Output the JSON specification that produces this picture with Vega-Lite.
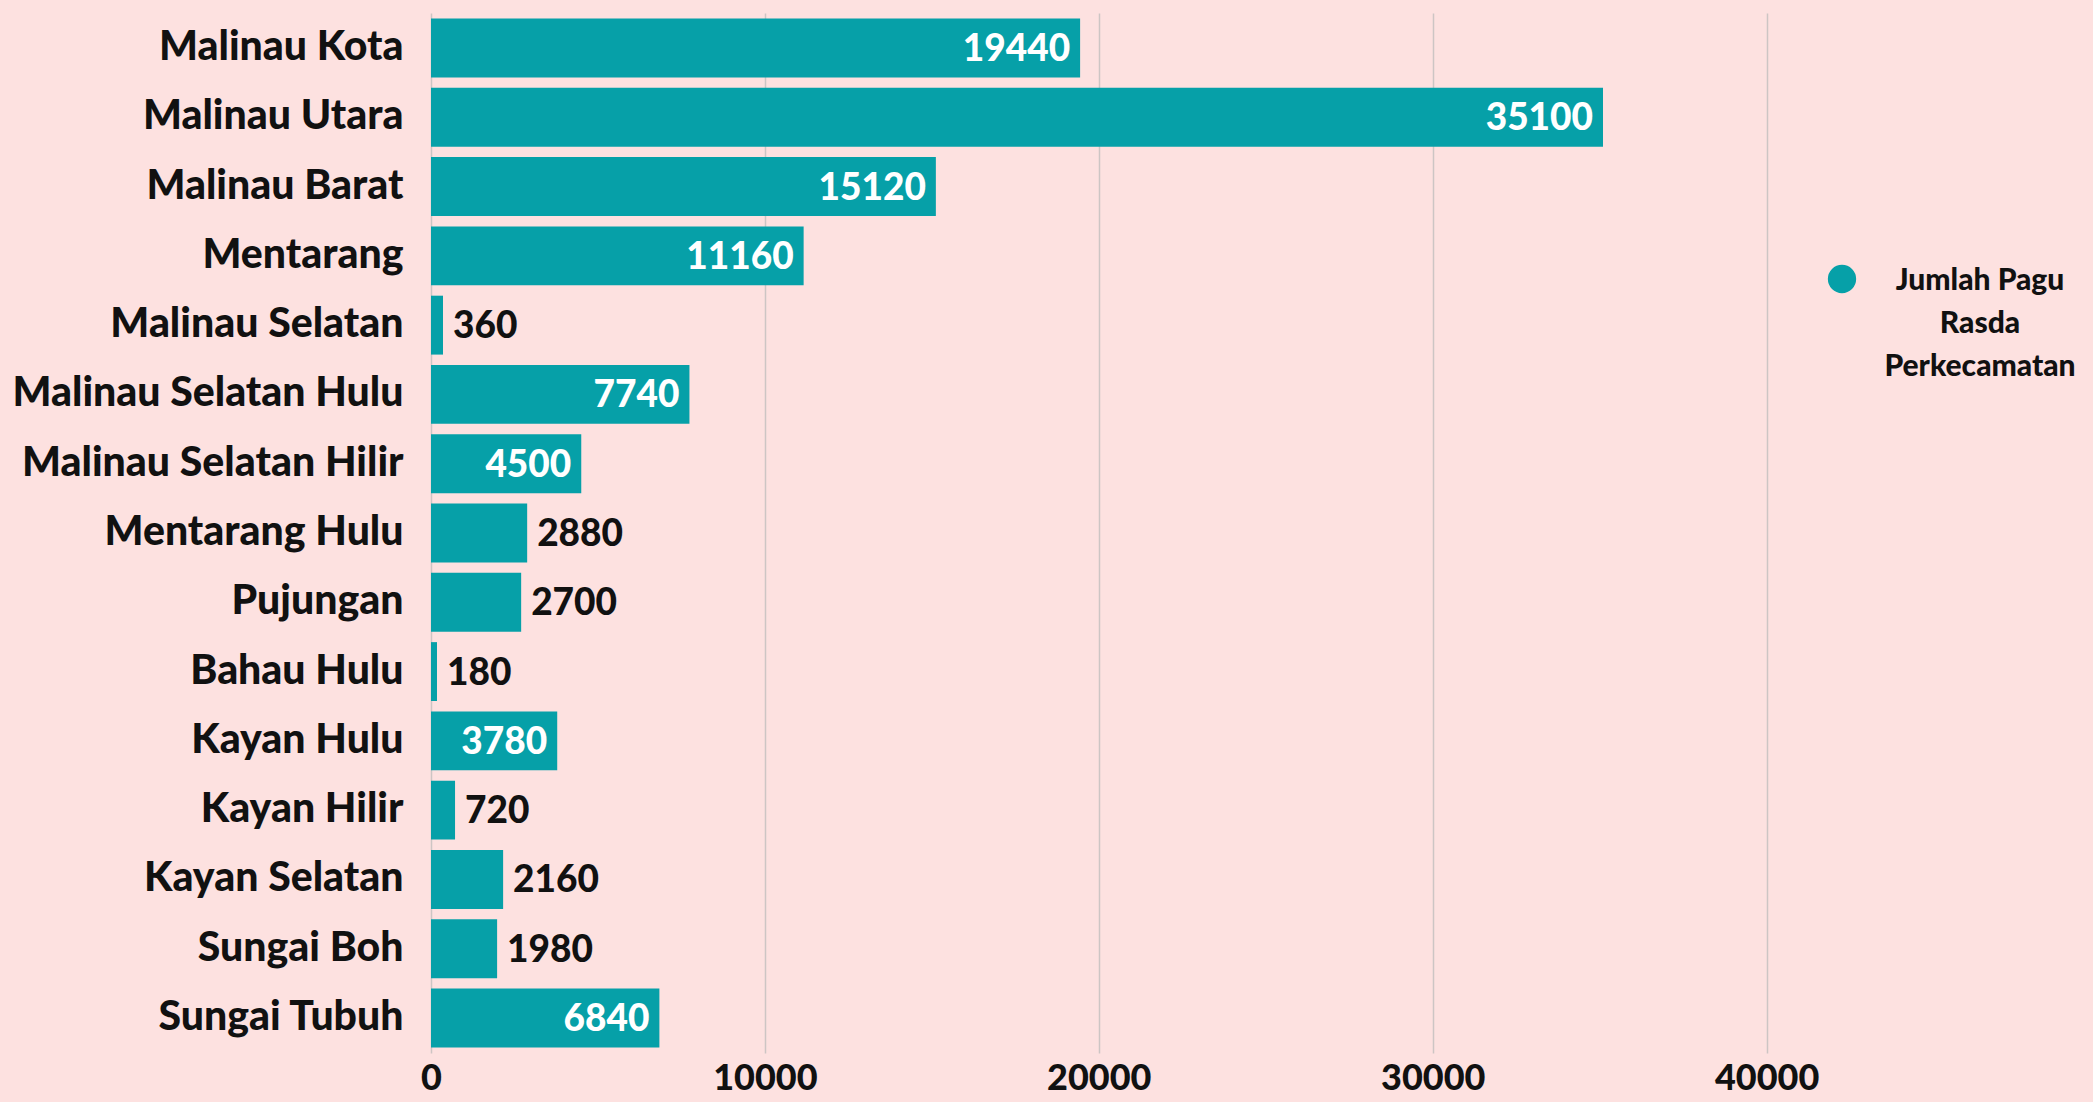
{
  "$schema": "https://vega.github.io/schema/vega-lite/v6.json",
  "background": "#fde1e0",
  "autosize": {"type": "none"},
  "padding": {"left": 431, "top": 13, "right": 293, "bottom": 49},
  "width": 1369,
  "height": 1040,
  "config": {
    "view": {"stroke": null},
    "font": "Lato"
  },
  "data": {
    "values": [
      {"kecamatan": "Malinau Kota", "value": 19440, "series": "Jumlah Pagu Rasda Perkecamatan"},
      {"kecamatan": "Malinau Utara", "value": 35100, "series": "Jumlah Pagu Rasda Perkecamatan"},
      {"kecamatan": "Malinau Barat", "value": 15120, "series": "Jumlah Pagu Rasda Perkecamatan"},
      {"kecamatan": "Mentarang", "value": 11160, "series": "Jumlah Pagu Rasda Perkecamatan"},
      {"kecamatan": "Malinau Selatan", "value": 360, "series": "Jumlah Pagu Rasda Perkecamatan"},
      {"kecamatan": "Malinau Selatan Hulu", "value": 7740, "series": "Jumlah Pagu Rasda Perkecamatan"},
      {"kecamatan": "Malinau Selatan Hilir", "value": 4500, "series": "Jumlah Pagu Rasda Perkecamatan"},
      {"kecamatan": "Mentarang Hulu", "value": 2880, "series": "Jumlah Pagu Rasda Perkecamatan"},
      {"kecamatan": "Pujungan", "value": 2700, "series": "Jumlah Pagu Rasda Perkecamatan"},
      {"kecamatan": "Bahau Hulu", "value": 180, "series": "Jumlah Pagu Rasda Perkecamatan"},
      {"kecamatan": "Kayan Hulu", "value": 3780, "series": "Jumlah Pagu Rasda Perkecamatan"},
      {"kecamatan": "Kayan Hilir", "value": 720, "series": "Jumlah Pagu Rasda Perkecamatan"},
      {"kecamatan": "Kayan Selatan", "value": 2160, "series": "Jumlah Pagu Rasda Perkecamatan"},
      {"kecamatan": "Sungai Boh", "value": 1980, "series": "Jumlah Pagu Rasda Perkecamatan"},
      {"kecamatan": "Sungai Tubuh", "value": 6840, "series": "Jumlah Pagu Rasda Perkecamatan"}
    ]
  },
  "encoding": {
    "y": {
      "field": "kecamatan",
      "type": "nominal",
      "sort": null,
      "scale": {"paddingInner": 0.15, "paddingOuter": 0.08},
      "axis": {
        "title": null,
        "domain": false,
        "ticks": false,
        "labelPadding": 28,
        "labelFont": "Lato",
        "labelFontWeight": 900,
        "labelFontSize": 41,
        "labelColor": "#111111",
        "labelLimit": 600
      }
    },
    "x": {
      "field": "value",
      "type": "quantitative",
      "scale": {"domain": [0, 41000], "nice": false},
      "axis": {
        "title": null,
        "values": [0, 10000, 20000, 30000, 40000],
        "format": "d",
        "domain": false,
        "ticks": false,
        "grid": true,
        "gridColor": "#cdc5c4",
        "gridWidth": 1.5,
        "labelPadding": 8,
        "labelFont": "Lato",
        "labelFontWeight": 900,
        "labelFontSize": 36,
        "labelColor": "#111111",
        "labelFlush": false
      }
    }
  },
  "layer": [
    {
      "mark": {"type": "bar"},
      "encoding": {
        "color": {
          "field": "series",
          "type": "nominal",
          "scale": {"range": ["#06a0a8"]},
          "legend": {
            "title": null,
            "orient": "none",
            "legendX": 1396,
            "legendY": 251,
            "symbolType": "circle",
            "symbolSize": 800,
            "symbolStrokeWidth": 0,
            "labelFont": "Lato",
            "labelFontWeight": 900,
            "labelFontSize": 30,
            "labelColor": "#111111",
            "labelAlign": "center",
            "labelOffset": 123,
            "labelBaseline": "top",
            "labelLimit": 400,
            "labelExpr": "['Jumlah Pagu', 'Rasda', 'Perkecamatan']",
            "encode": {"labels": {"update": {"lineHeight": {"value": 43}, "dy": {"value": -13}}}}
          }
        }
      }
    },
    {
      "transform": [{"filter": "datum.value >= 3500"}],
      "mark": {"type": "text", "align": "right", "baseline": "middle", "dx": -10, "dy": 2, "font": "Lato", "fontWeight": 900, "fontSize": 37, "color": "#ffffff"},
      "encoding": {"text": {"field": "value", "type": "quantitative", "format": "d"}}
    },
    {
      "transform": [{"filter": "datum.value < 3500"}],
      "mark": {"type": "text", "align": "left", "baseline": "middle", "dx": 10, "dy": 2, "font": "Lato", "fontWeight": 900, "fontSize": 37, "color": "#111111"},
      "encoding": {"text": {"field": "value", "type": "quantitative", "format": "d"}}
    }
  ]
}
